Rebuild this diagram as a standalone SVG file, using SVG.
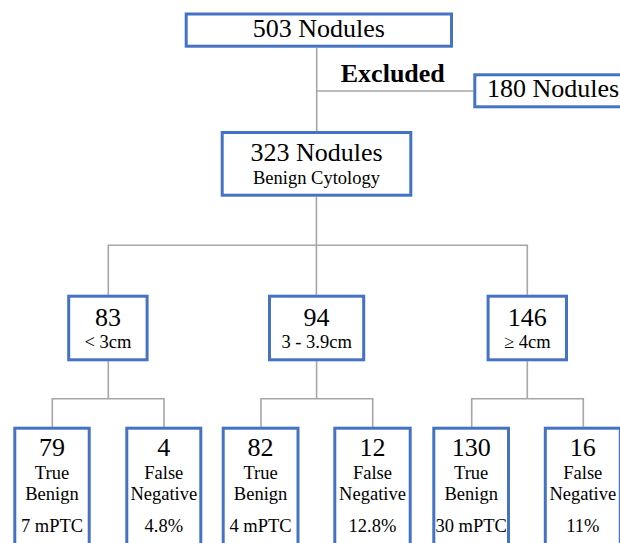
<svg xmlns="http://www.w3.org/2000/svg" width="620" height="543" viewBox="0 0 620 543">
<style>
.box{fill:#fff;stroke:#4472C4;stroke-width:3}
.con{fill:none;stroke:#A6A6A6;stroke-width:1.6}
text{font-family:"Liberation Serif","Times New Roman",serif;fill:#000;text-anchor:middle}
.big{font-size:26px}
.sm{font-size:18.5px}
.b{font-weight:bold}
</style>
<rect width="620" height="543" fill="#fff"/>
<g id="connectors">
<path class="con" d="M316.7,47.7V131M316.7,91H473.5"/>
<path class="con" d="M316.4,196.7V294.7M108.3,294.7V245.3H527.3V294.7"/>
<path class="con" d="M108.3,361.3V398.7M52.3,426.7V398.7H164V426.7"/>
<path class="con" d="M316.6,361.3V398.7M261,426.7V398.7H372.7V426.7"/>
<path class="con" d="M527.3,361.3V398.7M471.7,426.7V398.7H583.3V426.7"/>
</g>
<text class="big b" x="392.8" y="81.7">Excluded</text>
<g id="n503">
<rect class="box" x="186.2" y="14" width="265.3" height="32.2"/>
<text class="big" x="318.9" y="37.3">503 Nodules</text>
</g>
<g id="n180">
<rect class="box" x="474.8" y="74.8" width="160" height="32"/>
<text class="big" x="553" y="97.3">180 Nodules</text>
</g>
<g id="n323">
<rect class="box" x="222.2" y="132.5" width="188.6" height="62.7"/>
<text class="big" x="316.5" y="160.7">323 Nodules</text>
<text class="sm" x="316.5" y="184">Benign Cytology</text>
</g>
<g id="n83">
<rect class="box" x="68.7" y="296.2" width="78.4" height="63.6"/>
<text class="big" x="107.9" y="325.7">83</text>
<text class="sm" x="107.9" y="348.3">&lt; 3cm</text>
</g>
<g id="n94">
<rect class="box" x="269.5" y="296.2" width="94.2" height="63.6"/>
<text class="big" x="316.6" y="325.7">94</text>
<text class="sm" x="316.6" y="348.3">3 - 3.9cm</text>
</g>
<g id="n146">
<rect class="box" x="488.1" y="296.2" width="78.4" height="63.6"/>
<text class="big" x="527.3" y="325.7">146</text>
<text class="sm" x="527.3" y="348.3">≥ 4cm</text>
</g>
<g id="l79">
<rect class="box" x="14.8" y="428.2" width="74.4" height="200"/>
<text class="big" x="52" y="455.7">79</text>
<text class="sm" x="52" y="479.3">True</text>
<text class="sm" x="52" y="500">Benign</text>
<text class="sm" x="52" y="531.7">7 mPTC</text>
</g>
<g id="l4">
<rect class="box" x="126.8" y="428.2" width="74" height="200"/>
<text class="big" x="163.8" y="455.7">4</text>
<text class="sm" x="163.8" y="479.3">False</text>
<text class="sm" x="163.8" y="500">Negative</text>
<text class="sm" x="163.8" y="531.7">4.8%</text>
</g>
<g id="l82">
<rect class="box" x="223.2" y="428.2" width="74.8" height="200"/>
<text class="big" x="260.6" y="455.7">82</text>
<text class="sm" x="260.6" y="479.3">True</text>
<text class="sm" x="260.6" y="500">Benign</text>
<text class="sm" x="260.6" y="531.7">4 mPTC</text>
</g>
<g id="l12">
<rect class="box" x="334.8" y="428.2" width="75.4" height="200"/>
<text class="big" x="372.5" y="455.7">12</text>
<text class="sm" x="372.5" y="479.3">False</text>
<text class="sm" x="372.5" y="500">Negative</text>
<text class="sm" x="372.5" y="531.7">12.8%</text>
</g>
<g id="l130">
<rect class="box" x="433.8" y="428.2" width="74.7" height="200"/>
<text class="big" x="471.2" y="455.7">130</text>
<text class="sm" x="471.2" y="479.3">True</text>
<text class="sm" x="471.2" y="500">Benign</text>
<text class="sm" x="471.2" y="531.7">30 mPTC</text>
</g>
<g id="l16">
<rect class="box" x="545.3" y="428.2" width="75" height="200"/>
<text class="big" x="582.8" y="455.7">16</text>
<text class="sm" x="582.8" y="479.3">False</text>
<text class="sm" x="582.8" y="500">Negative</text>
<text class="sm" x="582.8" y="531.7">11%</text>
</g>
</svg>
